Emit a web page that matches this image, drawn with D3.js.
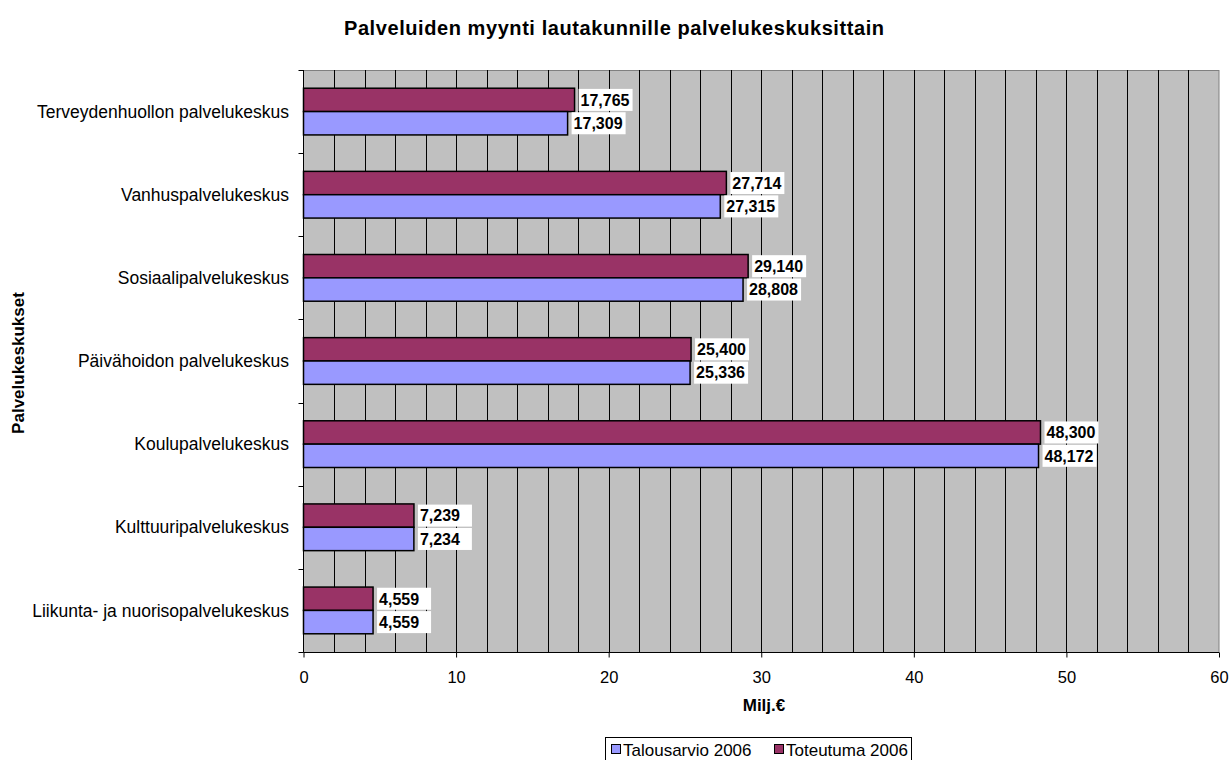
<!DOCTYPE html>
<html>
<head>
<meta charset="utf-8">
<script src="https://cdn.jsdelivr.net/npm/d3@7"></script>
<style>
  body { margin: 0; background: #fff; }
  text { font-family: Arial, "Liberation Sans", sans-serif; }
</style>
</head>
<body>
<div id="chart"></div>
<script>
var categories = ["Terveydenhuollon palvelukeskus", "Vanhuspalvelukeskus", "Sosiaalipalvelukeskus",
    "Päivähoidon palvelukeskus", "Koulupalvelukeskus", "Kulttuuripalvelukeskus", "Liikunta- ja nuorisopalvelukeskus"];
var talousarvio = [17.309, 27.315, 28.808, 25.336, 48.172, 7.234, 4.559];
var toteutuma = [17.765, 27.714, 29.140, 25.400, 48.300, 7.239, 4.559];
var seriesNames = ["Talousarvio 2006", "Toteutuma 2006"];
var xTicks = [0, 10, 20, 30, 40, 50, 60];

var W = 1230, H = 760;
var pL = 303.5, pR = 1219, pT = 70, pB = 652;

var svg = d3.select("#chart").append("svg").attr("width", W).attr("height", H);

var x = d3.scaleLinear().domain([0, 60]).range([pL, pR]);
var y = d3.scaleBand().domain(categories).range([pT, pB]);
var inner = d3.scaleBand().domain(["tot", "tal"]).range([0, y.bandwidth()]).paddingOuter(0.78).paddingInner(0);

// plot background
svg.append("rect").attr("x", pL).attr("y", pT + 0.5).attr("width", pR - pL).attr("height", pB - pT)
    .attr("fill", "#c0c0c0").attr("stroke", "#808080").attr("stroke-width", 1);

// grid lines every 2
svg.append("g").selectAll("line").data(d3.range(2, 60, 2)).join("line")
    .attr("x1", function (d) { return Math.round(x(d)) + 0.5; })
    .attr("x2", function (d) { return Math.round(x(d)) + 0.5; })
    .attr("y1", pT).attr("y2", pB)
    .attr("stroke", "#000").attr("stroke-width", 1);

// axes
svg.append("line").attr("x1", pL).attr("x2", pL).attr("y1", pT).attr("y2", pB).attr("stroke", "#000");
svg.append("line").attr("x1", pL).attr("x2", pR).attr("y1", pB + 0.5).attr("y2", pB + 0.5).attr("stroke", "#000");

var xAxis = svg.append("g").attr("transform", "translate(0," + (pB + 0.5) + ")")
    .call(d3.axisBottom(x).tickValues(xTicks).tickSize(5).tickPadding(14).tickFormat(d3.format("d")));
xAxis.select(".domain").remove();
xAxis.selectAll("text").attr("font-size", 16.5).attr("fill", "#000");

// y tick marks at band boundaries
var bounds = categories.map(function (c) { return y(c); }).concat([pB]);
svg.append("g").selectAll("line").data(bounds).join("line")
    .attr("x1", pL - 5).attr("x2", pL)
    .attr("y1", function (d) { return Math.round(d) + 0.5; })
    .attr("y2", function (d) { return Math.round(d) + 0.5; })
    .attr("stroke", "#000");

svg.append("g").selectAll("text").data(categories).join("text")
    .attr("x", 289).attr("y", function (d) { return y(d) + y.bandwidth() / 2; })
    .attr("dy", "0.35em").attr("text-anchor", "end").attr("font-size", 17.5).attr("fill", "#000")
    .text(function (d) { return d; });

// bars
var rows = categories.map(function (c, i) {
    return [{ c: c, k: "tot", v: toteutuma[i], col: "#993366" }, { c: c, k: "tal", v: talousarvio[i], col: "#9999ff" }];
});
var flat = [].concat.apply([], rows);

svg.append("g").selectAll("rect").data(flat).join("rect")
    .attr("x", pL).attr("y", function (d) { return y(d.c) + inner(d.k); })
    .attr("width", function (d) { return x(d.v) - pL; })
    .attr("height", inner.bandwidth())
    .attr("fill", function (d) { return d.col; })
    .attr("stroke", "#000").attr("stroke-width", 1.5);

var fmt = function (v) { return d3.format(".3f")(v).replace(".", ","); };
var lab = svg.append("g").selectAll("g").data(flat).join("g")
    .attr("transform", function (d) {
        return "translate(" + (x(d.v) + 4) + "," + (y(d.c) + inner(d.k) + inner.bandwidth() / 2) + ")";
    });
lab.append("rect").attr("x", 0).attr("y", -11).attr("width", 54).attr("height", 22).attr("fill", "#fff");
lab.append("text").attr("x", 2).attr("dy", "0.36em").attr("font-size", 16).attr("font-weight", "bold")
    .attr("fill", "#000").text(function (d) { return fmt(d.v); });

// titles
svg.append("text").attr("x", 614).attr("y", 35).attr("text-anchor", "middle").attr("font-size", 20)
    .attr("font-weight", "bold").attr("textLength", 540).attr("lengthAdjust", "spacing")
    .text("Palveluiden myynti lautakunnille palvelukeskuksittain");
svg.append("text").attr("x", 764).attr("y", 711).attr("text-anchor", "middle").attr("font-size", 17)
    .attr("font-weight", "bold").text("Milj.€");
svg.append("text").attr("transform", "translate(24,363) rotate(-90)").attr("text-anchor", "middle")
    .attr("font-size", 17).attr("font-weight", "bold").text("Palvelukeskukset");

// legend
var leg = svg.append("g");
leg.append("rect").attr("x", 605.5).attr("y", 737.5).attr("width", 306).attr("height", 26)
    .attr("fill", "#fff").attr("stroke", "#000");
var legCols = ["#9999ff", "#993366"];
var legX = [611, 774];
seriesNames.forEach(function (s, i) {
    leg.append("rect").attr("x", legX[i] + 0.5).attr("y", 744.5).attr("width", 9).attr("height", 9)
        .attr("fill", legCols[i]).attr("stroke", "#000");
    leg.append("text").attr("x", legX[i] + 12).attr("y", 756).attr("font-size", 17).text(s);
});
</script>
</body>
</html>
